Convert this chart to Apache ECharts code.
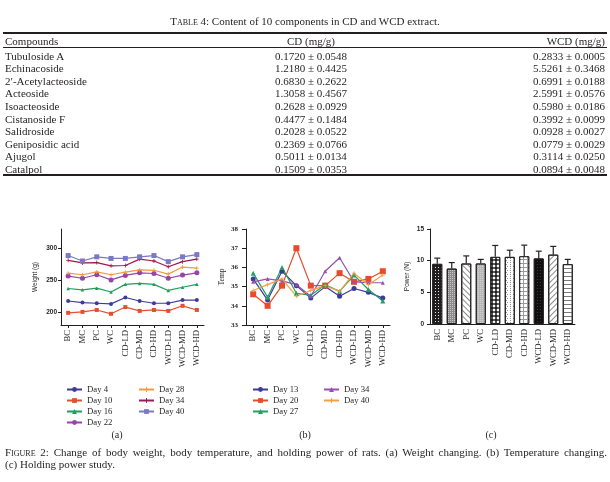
<!DOCTYPE html>
<html>
<head>
<meta charset="utf-8">
<script src="https://cdn.jsdelivr.net/npm/echarts@6/dist/echarts.min.js"></script>
<style>
html, body { margin: 0; padding: 0; background: #fff; }
#page { position: relative; width: 610px; height: 482px; overflow: hidden;
        font-family: "Liberation Serif", "Times New Roman", serif; color: #231f20; }
#chart { position: absolute; left: 0; top: 0; width: 610px; height: 482px; }
.t { position: absolute; white-space: nowrap; font-size: 11px; line-height: 12px; }
.rule { position: absolute; left: 3px; width: 604px; background: #231f20; }
.sc { font-variant: small-caps; }
</style>
</head>
<body>
<div id="page">
  <div id="chart"></div>
  <div id="table"></div>
  <div class="t" style="left:5px; width:602px; top:446px; text-align:justify; text-align-last:justify;"><span class="sc">Figure</span> 2: Change of body weight, body temperature, and holding power of rats. (a) Weight changing. (b) Temperature changing.</div>
  <div class="t" style="left:5px; top:457.5px;">(c) Holding power study.</div>
</div>
<script>
// Table 4 data
var compounds = ['Tubuloside A', 'Echinacoside', '2\u2032-Acetylacteoside', 'Acteoside', 'Isoacteoside',
  'Cistanoside F', 'Salidroside', 'Geniposidic acid', 'Ajugol', 'Catalpol'];
var cdContent = ['0.1720 \u00b1 0.0548', '1.2180 \u00b1 0.4425', '0.6830 \u00b1 0.2622', '1.3058 \u00b1 0.4567',
  '0.2628 \u00b1 0.0929', '0.4477 \u00b1 0.1484', '0.2028 \u00b1 0.0522', '0.2369 \u00b1 0.0766',
  '0.5011 \u00b1 0.0134', '0.1509 \u00b1 0.0353'];
var wcdContent = ['0.2833 \u00b1 0.0005', '5.5261 \u00b1 0.3468', '0.6991 \u00b1 0.0188', '2.5991 \u00b1 0.0576',
  '0.5980 \u00b1 0.0186', '0.3992 \u00b1 0.0099', '0.0928 \u00b1 0.0027', '0.0779 \u00b1 0.0029',
  '0.3114 \u00b1 0.0250', '0.0894 \u00b1 0.0048'];

// Figure 2 data
var groups = ['BC', 'MC', 'PC', 'WC', 'CD-LD', 'CD-MD', 'CD-HD', 'WCD-LD', 'WCD-MD', 'WCD-HD'];
var weightTicks = [200, 250, 300];
var weightDay4  = [217.5, 215, 214, 213, 223, 217.5, 214, 214, 219, 219];
var weightDay10 = [199, 200.5, 203.5, 197.5, 208, 202, 203.5, 202, 210, 203.5];
var weightDay16 = [237, 235, 237.5, 231.5, 243.5, 245, 243.5, 234, 239, 243.5];
var weightDay22 = [256.5, 253, 258.5, 250.5, 257.5, 261.5, 260.5, 253, 258, 261.5];
var weightDay28 = [261, 258.5, 263, 258.5, 262.5, 266, 265.5, 259.5, 270.5, 269];
var weightDay34 = [281, 277, 277.5, 272.5, 273, 283, 280, 271, 279, 283];
var weightDay40 = [288.5, 280, 286.5, 284, 284, 286.5, 288.5, 279, 286.5, 290];

var tempDay13 = [35.4, 34.3, 35.8, 35.05, 34.4, 35.0, 34.5, 34.9, 34.7, 34.4];
var tempDay20 = [34.6, 34.0, 35.05, 37.0, 35.05, 35.05, 35.7, 35.25, 35.4, 35.8];
var tempDay27 = [35.7, 34.45, 36.0, 34.65, 34.55, 35.1, 34.75, 35.6, 34.85, 34.25];
var tempDay34 = [35.25, 35.4, 35.3, 35.1, 34.5, 35.8, 36.5, 35.25, 35.2, 35.2];
var tempDay40 = [34.8, 35.1, 35.4, 34.5, 34.8, 35.05, 34.75, 35.7, 35.1, 35.6];

var powerMean = [9.5, 8.75, 9.55, 9.55, 10.6, 10.6, 10.7, 10.35, 10.95, 9.45];
var powerSd   = [0.9, 0.95, 1.2, 0.65, 1.8, 1.05, 1.75, 1.15, 1.3, 0.75];

// build the table
var ink = '#231f20';
var tbl = document.getElementById('table');
function put(html, style) {
  var d = document.createElement('div');
  d.className = 't';
  d.setAttribute('style', style);
  d.innerHTML = html;
  tbl.appendChild(d);
}
function rule(y, h) {
  var d = document.createElement('div');
  d.className = 'rule';
  d.style.top = y + 'px';
  d.style.height = h + 'px';
  tbl.appendChild(d);
}
put('<span class="sc">Table</span> 4: Content of 10 components in CD and WCD extract.', 'left:0; width:610px; text-align:center; top:15px;');
rule(32, 1.5);
put('Compounds', 'left:5px; top:35px;');
put('CD (mg/g)', 'left:211px; width:200px; text-align:center; top:35px;');
put('WCD (mg/g)', 'right:5px; top:35px;');
rule(47, 1);
for (var i = 0; i < compounds.length; i++) {
  var rowTop = (49.5 + i * 12.6).toFixed(1) + 'px';
  put(compounds[i], 'left:5px; top:' + rowTop + ';');
  put(cdContent[i], 'left:211px; width:200px; text-align:center; top:' + rowTop + ';');
  put(wcdContent[i], 'right:5px; top:' + rowTop + ';');
}
rule(174, 1.5);

// charts
var serif = '"Liberation Serif", "Times New Roman", serif';
var sans = '"Liberation Sans", Arial, sans-serif';
var plus = 'path://M4,0h2v4h4v2h-4v4h-2v-4h-4v-2h4z';

var chartInstance = echarts.init(document.getElementById('chart'));

function xAxisFor(idx, showTick) {
  return {
    type: 'category', gridIndex: idx, data: groups, boundaryGap: true,
    axisLine: { lineStyle: { color: ink, width: 1 } },
    axisTick: { show: showTick, alignWithLabel: true, length: 3, lineStyle: { color: ink } },
    axisLabel: { rotate: 90, interval: 0, margin: 5, fontFamily: serif, fontSize: 8.7, color: ink }
  };
}

function lineSeries(name, data, color, symbol, size, idx) {
  return {
    type: 'line', name: name, xAxisIndex: idx, yAxisIndex: idx, data: data,
    symbol: symbol, symbolSize: size, showSymbol: true,
    lineStyle: { color: color, width: 1.2 },
    itemStyle: { color: color }
  };
}

function legendName(n) { return n.split('|')[1]; }

function legendFor(names, left) {
  return {
    data: names, orient: 'vertical', left: left, top: 380,
    itemWidth: 15, itemHeight: 6, itemGap: 2, selectedMode: false,
    formatter: legendName,
    textStyle: { fontFamily: serif, fontSize: 8.7, color: ink, lineHeight: 9 }
  };
}

var stripe = function (rot) {
  return { symbol: 'rect', symbolSize: 1, color: '#8a8a8a', dashArrayX: [1, 0], dashArrayY: [1, 2.5], rotation: rot };
};
var barStyles = [
  { color: '#1e1e1e', decal: { symbol: 'rect', symbolSize: 1, color: '#e6e6e6', dashArrayX: [1, 1.5], dashArrayY: [1, 1.5] } },
  { color: '#8c8c8c', decal: { symbol: 'circle', symbolSize: 1, color: '#d9d9d9', dashArrayX: [1, 1], dashArrayY: [1, 1] } },
  { color: '#ffffff', decal: stripe(Math.PI / 4) },
  { color: '#b8b8b8', decal: { symbol: 'circle', symbolSize: 0.8, color: '#eeeeee', dashArrayX: [1, 1], dashArrayY: [1, 1] } },
  { color: '#1e1e1e', decal: { symbol: 'diamond', symbolSize: 0.85, color: '#ffffff', dashArrayX: [4, 0], dashArrayY: [4, 0] } },
  { color: '#ffffff', decal: { symbol: 'circle', symbolSize: 0.9, color: '#222222', dashArrayX: [[1, 2], [0, 1.5, 1, 0.5]], dashArrayY: [1, 1] } },
  { color: '#9a9a9a', decal: { symbol: 'rect', symbolSize: 1, color: '#ffffff', dashArrayX: [3, 1], dashArrayY: [3, 1] } },
  { color: '#0e0e0e', decal: { symbol: 'rect', symbolSize: 1, color: '#3c3c3c', dashArrayX: [1, 2], dashArrayY: [1, 2] } },
  { color: '#ffffff', decal: stripe(-Math.PI / 4) },
  { color: '#ffffff', decal: { symbol: 'rect', symbolSize: 1, color: '#7a7a7a', dashArrayX: [1, 0], dashArrayY: [1, 2.5] } }
];

var option = {
  animation: false,
  grid: [
    { left: 61, top: 229, width: 143, height: 96 },
    { left: 246, top: 229, width: 144, height: 96 },
    { left: 430, top: 229, width: 145, height: 95 }
  ],
  xAxis: [xAxisFor(0, true), xAxisFor(1, true), xAxisFor(2, false)],
  yAxis: [
    {
      type: 'value', gridIndex: 0, min: 180, max: 330,
      name: 'Weight (g)', nameLocation: 'middle', nameGap: 22,
      nameTextStyle: { fontFamily: sans, fontSize: 6.5, color: ink },
      axisLine: { show: true, lineStyle: { color: ink } },
      axisTick: { show: true, length: 3, customValues: weightTicks, lineStyle: { color: ink } },
      axisLabel: { customValues: weightTicks, margin: 4, fontFamily: sans, fontWeight: 'bold', fontSize: 6.5, color: ink },
      splitLine: { show: false }
    },
    {
      type: 'value', gridIndex: 1, min: 33, max: 38, interval: 1,
      name: 'Temp', nameLocation: 'middle', nameGap: 20,
      nameTextStyle: { fontFamily: serif, fontSize: 7.5, color: ink },
      axisLine: { show: true, lineStyle: { color: ink } },
      axisTick: { show: true, length: 4, lineStyle: { color: ink } },
      axisLabel: { margin: 8, fontFamily: serif, fontWeight: 'bold', fontSize: 7, color: ink },
      splitLine: { show: false }
    },
    {
      type: 'value', gridIndex: 2, min: 0, max: 15, interval: 5,
      name: 'Power (N)', nameLocation: 'middle', nameGap: 19,
      nameTextStyle: { fontFamily: sans, fontSize: 6.5, color: ink },
      axisLine: { show: true, lineStyle: { color: ink } },
      axisTick: { show: true, length: 3, lineStyle: { color: ink } },
      axisLabel: { margin: 6, fontFamily: sans, fontWeight: 'bold', fontSize: 6.5, color: ink },
      splitLine: { show: false }
    }
  ],
  legend: [
    legendFor(['a|Day 4', 'a|Day 10', 'a|Day 16', 'a|Day 22'], 61),
    legendFor(['a|Day 28', 'a|Day 34', 'a|Day 40'], 133),
    legendFor(['b|Day 13', 'b|Day 20', 'b|Day 27'], 247),
    legendFor(['b|Day 34', 'b|Day 40'], 318)
  ],
  graphic: [
    { type: 'text', x: 117, y: 435, style: { text: '(a)', font: '10px ' + serif, fill: ink, align: 'center', verticalAlign: 'middle', textAlign: 'center', textVerticalAlign: 'middle' } },
    { type: 'text', x: 305, y: 435, style: { text: '(b)', font: '10px ' + serif, fill: ink, align: 'center', verticalAlign: 'middle', textAlign: 'center', textVerticalAlign: 'middle' } },
    { type: 'text', x: 491, y: 435, style: { text: '(c)', font: '10px ' + serif, fill: ink, align: 'center', verticalAlign: 'middle', textAlign: 'center', textVerticalAlign: 'middle' } }
  ],
  series: [
    lineSeries('a|Day 4', weightDay4, '#3d3b98', 'circle', 4, 0),
    lineSeries('a|Day 10', weightDay10, '#e2502f', 'rect', 4, 0),
    lineSeries('a|Day 16', weightDay16, '#1f9e5c', 'triangle', 3.5, 0),
    lineSeries('a|Day 22', weightDay22, '#9645a6', 'circle', 5, 0),
    lineSeries('a|Day 28', weightDay28, '#f29a3f', plus, 4, 0),
    lineSeries('a|Day 34', weightDay34, '#9c1a50', plus, 4, 0),
    lineSeries('a|Day 40', weightDay40, '#7a7ac2', 'rect', 5, 0),

    lineSeries('b|Day 13', tempDay13, '#3d3b98', 'circle', 5, 1),
    lineSeries('b|Day 20', tempDay20, '#e84a2a', 'rect', 6, 1),
    lineSeries('b|Day 27', tempDay27, '#22a062', 'triangle', 5, 1),
    lineSeries('b|Day 34', tempDay34, '#9550b2', 'triangle', 4, 1),
    lineSeries('b|Day 40', tempDay40, '#f2a043', plus, 4, 1),

    {
      type: 'bar', name: 'Power', xAxisIndex: 2, yAxisIndex: 2, barWidth: 10,
      data: powerMean.map(function (v, i) {
        return { value: v, itemStyle: { color: barStyles[i].color, decal: barStyles[i].decal, borderColor: ink, borderWidth: 1 } };
      })
    },
    {
      type: 'custom', name: 'SD', xAxisIndex: 2, yAxisIndex: 2, z: 3,
      data: powerMean.map(function (v, i) { return [i, v, v + powerSd[i]]; }),
      encode: { x: 0, y: [1, 2] },
      renderItem: function (params, api) {
        var base = api.coord([api.value(0), api.value(1)]);
        var tip = api.coord([api.value(0), api.value(2)]);
        var w = 3;
        return {
          type: 'group',
          children: [
            { type: 'line', shape: { x1: base[0], y1: base[1], x2: tip[0], y2: tip[1] }, style: { stroke: ink, lineWidth: 1.2 } },
            { type: 'line', shape: { x1: tip[0] - w, y1: tip[1], x2: tip[0] + w, y2: tip[1] }, style: { stroke: ink, lineWidth: 1.2 } }
          ]
        };
      }
    }
  ]
};

chartInstance.setOption(option);
</script>
</body>
</html>
